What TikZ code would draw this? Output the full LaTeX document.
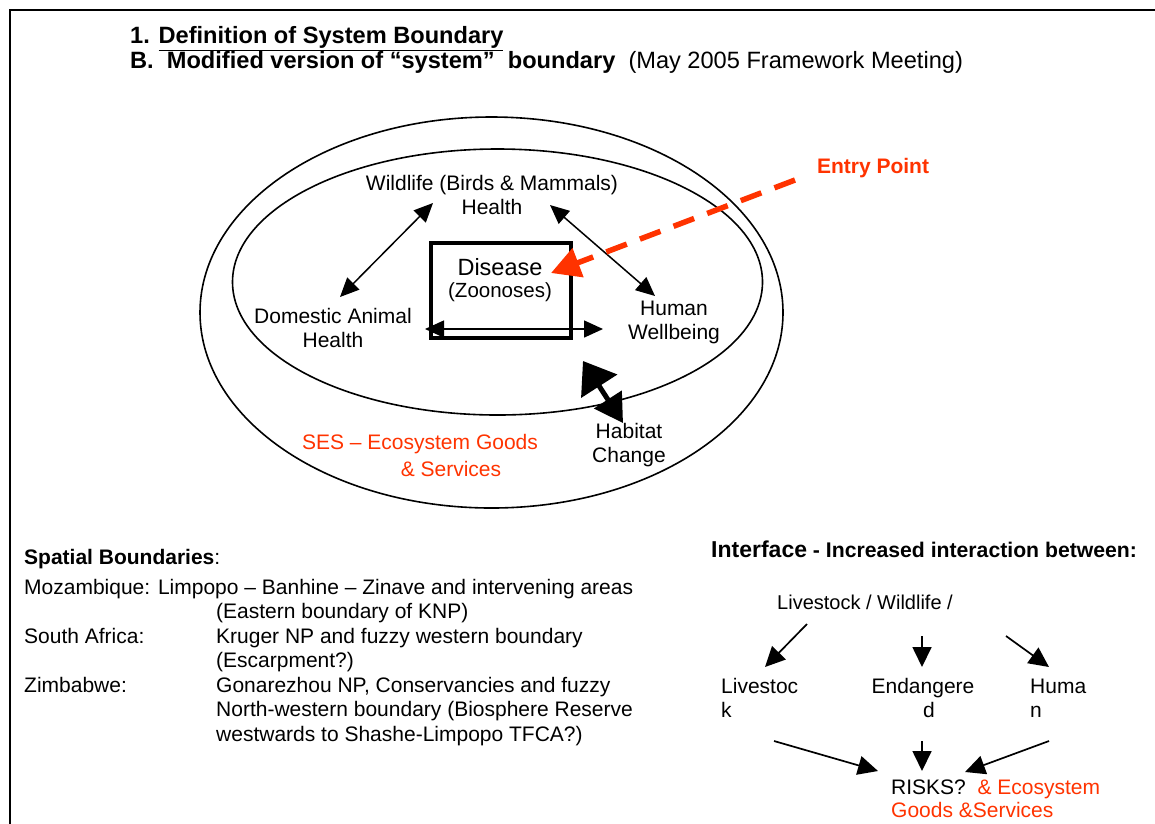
\documentclass[tikz,border=0pt]{standalone}
\usepackage{fontspec}
\setmainfont{Liberation Sans}
\usetikzlibrary{arrows.meta}
\definecolor{ered}{RGB}{255,51,0}
\begin{document}
\begin{tikzpicture}[x=1pt,y=-1pt,
  txt/.style={inner sep=0pt, font=\fontsize{21}{24}\selectfont},
  ttl/.style={inner sep=0pt, anchor=base west, font=\bfseries\fontsize{23.6}{28}\selectfont},
  lft/.style={txt, anchor=base west},
  dbl/.style={line width=1.5pt, {Triangle[length=19pt,width=17pt]}-{Triangle[length=19pt,width=17pt]}},
  sgl/.style={line width=1.7pt, -{Triangle[length=20pt,width=19pt]}},
  ring/.style={line width=1.6pt}
]
\useasboundingbox (0,0) rectangle (1155,823);
% frame
\draw[line width=2.5pt] (1160,10) -- (10,10) -- (10,830);

% titles
\node[ttl] (t1) at (130,43.5) {1. \underline{Definition of System Boundary}};
\node[ttl] (t2) at (130,68.5) {B.\ \ Modified version of “system”\ \ boundary\ \ {\mdseries (May 2005 Framework Meeting)}};

% ellipses
\draw[ring] (491.5,312.5) ellipse [x radius=291.5pt, y radius=195.5pt];
\draw[ring] (497.5,282) ellipse [x radius=265pt, y radius=133pt];

% nodes
\node[txt, align=center] (wild) at (492,195) {Wildlife (Birds \& Mammals)\\Health};
\node[txt, align=center] (dom) at (333,328) {Domestic Animal\\Health};
\node[txt, align=center] (hum) at (674,322) {Human\\Wellbeing};
\node[draw, line width=4pt, minimum width=140pt, minimum height=95pt, inner sep=0pt] (dis) at (501,290.5) {};
\node[txt, font=\fontsize{23.5}{28}\selectfont] (dtxt) at (500,267) {Disease};
\node[txt, font=\fontsize{20.5}{24}\selectfont] (ztxt) at (500,292) {(Zoonoses)};
\node[txt, text=ered, font=\bfseries\fontsize{21}{24}\selectfont] (entry) at (873,168) {Entry Point};
\node[txt, text=ered] (ses1) at (420,444) {SES – Ecosystem Goods};
\node[txt, text=ered] (ses2) at (451,469) {\& Services};
\node[txt, align=center] (hab) at (629,445) {Habitat\\Change};

% arrow end points
\coordinate (wd1) at (433,203); \coordinate (wd2) at (340,297);
\coordinate (wh1) at (550,205); \coordinate (wh2) at (655,296);
\coordinate (dh1) at (425,329); \coordinate (dh2) at (603,329);
\coordinate (hb1) at (583,361); \coordinate (hb2) at (623,423);
\coordinate (ep1) at (795,180); \coordinate (ep2) at (551,273);

\draw[dbl] (wd1) -- (wd2);
\draw[dbl] (wh1) -- (wh2);
\draw[dbl] (dh1) -- (dh2);
\draw[line width=5pt, {Triangle[length=30pt,width=42pt]}-{Triangle[length=28pt,width=32pt]}] (hb1) -- (hb2);
\draw[ered, line width=5.5pt, dash pattern=on 22pt off 14pt, -{Triangle[length=29pt,width=30pt]}] (ep1) -- (ep2);

% spatial boundaries
\node[lft] (sb) at (24,564.5) {\textbf{Spatial Boundaries}:};
\node[lft] (moz) at (24,594.5) {Mozambique: Limpopo – Banhine – Zinave and intervening areas};
\node[lft] (moz2) at (216,618.5) {(Eastern boundary of KNP)};
\node[lft] (sa) at (24,643.5) {South Africa:};
\node[lft] (sa1) at (216,643.5) {Kruger NP and fuzzy western boundary};
\node[lft] (sa2) at (216,667.5) {(Escarpment?)};
\node[lft] (zim) at (24,692.5) {Zimbabwe:};
\node[lft] (zim1) at (216,692.5) {Gonarezhou NP, Conservancies and fuzzy};
\node[lft] (zim2) at (216,716.5) {North-western boundary (Biosphere Reserve};
\node[lft] (zim3) at (216,741.5) {westwards to Shashe-Limpopo TFCA?)};

% interface
\node[lft] (iface) at (711,557.5) {{\bfseries\fontsize{23}{26}\selectfont Interface}{\bfseries\fontsize{21.2}{24}\selectfont\ - Increased interaction between:}};
\node[lft, font=\fontsize{20}{24}\selectfont] (lw) at (777,609) {Livestock / Wildlife /};
\node[txt, align=left, anchor=west] (lsk) at (721,698) {Livestoc\\k};
\node[txt, align=center] (end) at (923,698) {Endangere\\\ \ d};
\node[txt, align=left, anchor=west] (hmn) at (1030,698) {Huma\\n};
\node[lft] (risk) at (891,794.5) {RISKS?\ \ \textcolor{ered}{\& Ecosystem}};
\node[lft, text=ered] (goods) at (891,817.5) {Goods \&Services};

\coordinate (i1s) at (807,624); \coordinate (i1e) at (765,667);
\coordinate (i2s) at (922,636); \coordinate (i2e) at (922,667);
\coordinate (i3s) at (1006,636); \coordinate (i3e) at (1049,667);
\coordinate (r1s) at (774,741); \coordinate (r1e) at (878,771);
\coordinate (r2s) at (922,741); \coordinate (r2e) at (922,771);
\coordinate (r3s) at (1049,741); \coordinate (r3e) at (965,772);
\draw[sgl] (i1s) -- (i1e);
\draw[sgl] (i2s) -- (i2e);
\draw[sgl] (i3s) -- (i3e);
\draw[sgl] (r1s) -- (r1e);
\draw[sgl] (r2s) -- (r2e);
\draw[sgl] (r3s) -- (r3e);
\end{tikzpicture}
\end{document}
